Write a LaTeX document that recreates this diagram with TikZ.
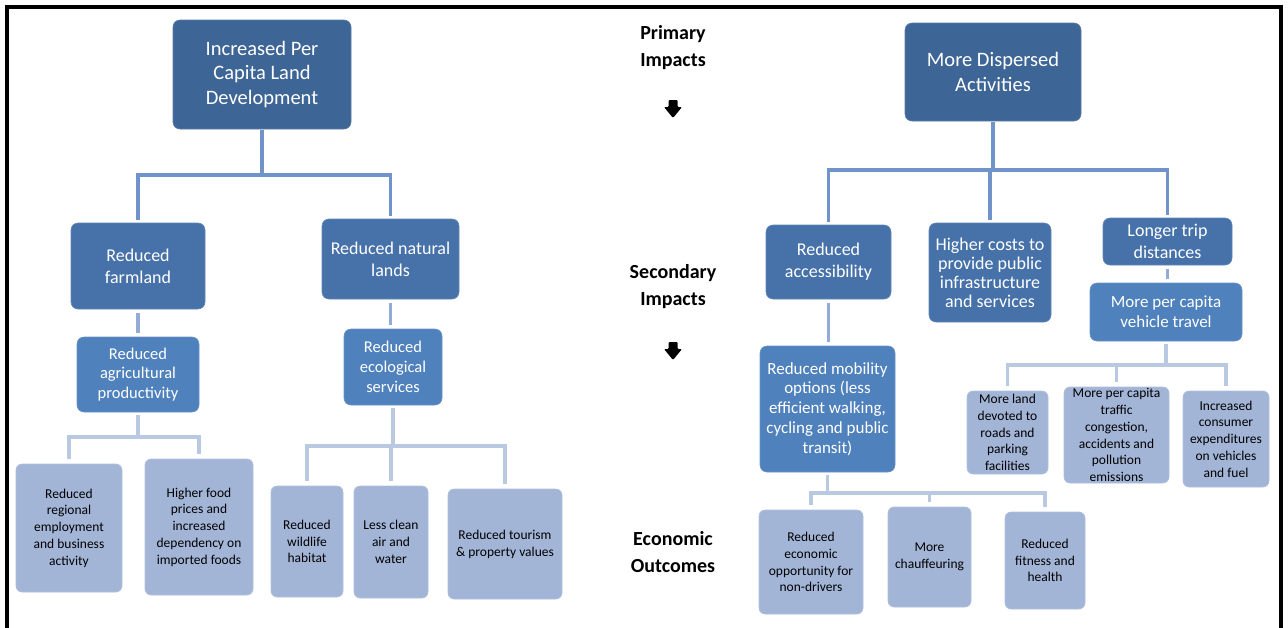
\documentclass[tikz,border=0pt]{standalone}
\usepackage{fontspec}
\setmainfont{Carlito}
\definecolor{cz}{HTML}{3D6596}
\definecolor{cy}{HTML}{4672A9}
\definecolor{cx}{HTML}{4F81BD}
\definecolor{cl}{HTML}{A3B5D7}
\definecolor{kA}{HTML}{7094CA}
\definecolor{kB}{HTML}{93ACD7}
\definecolor{kC}{HTML}{B9C9E2}
\tikzset{
  bx/.style={rectangle, rounded corners=7pt, inner sep=0pt, align=center},
  lvz/.style={bx, fill=cz, draw=cz!85!white, line width=0.6pt, text=white, font=\fontsize{20.5}{24.5}\selectfont},
  lvy/.style={bx, fill=cy, draw=cy!85!white, line width=0.6pt, text=white, font=\fontsize{18}{22}\selectfont},
  lvyt/.style={lvy, font=\fontsize{18}{19}\selectfont},
  lvx/.style={bx, fill=cx, draw=cx!85!white, line width=0.6pt, text=white, font=\fontsize{17}{20}\selectfont},
  lf/.style={bx, rounded corners=6pt, fill=cl, draw=cl!85!white, line width=0.6pt, text=black, font=\fontsize{13.5}{16.8}\selectfont},
  hd/.style={align=center, font=\bfseries\fontsize{20}{27}\selectfont},
  cA/.style={draw=kA, line width=3.6pt, shorten <=1pt, shorten >=3pt},
  cB/.style={draw=kB, line width=3.6pt, shorten <=4pt, shorten >=4pt},
  cC/.style={draw=kC, line width=3.6pt, shorten <=3pt, shorten >=5pt},
}
\begin{document}
\begin{tikzpicture}[x=1pt,y=-1pt]
\useasboundingbox (0,0) rectangle (1288,627);
\fill[white] (0,0) rectangle (1288,627);
% frame
\draw[line width=4pt] (7,630) -- (7,7) -- (1281,7) -- (1281,630);

% headings
\node[hd] (h1) at (673,48) {Primary\\Impacts};
\node[hd] (h2) at (673,286.5) {Secondary\\Impacts};
\node[hd] (h3) at (673,552.5) {Economic\\Outcomes};
\foreach \yy in {108,350}{
  \fill[black, rounded corners=1pt] (668.5,\yy-8) -- (677.5,\yy-8) -- (677.5,\yy-1) -- (682,\yy-1) -- (673,\yy+10) -- (664,\yy-1) -- (668.5,\yy-1) -- cycle;
}

% left tree
\node[lvz, minimum width=178pt, minimum height=109pt] (top1) at (262,74.5) {Increased Per\\Capita Land\\Development};
\node[lvy, minimum width=134pt, minimum height=86pt] (farm) at (138,266) {Reduced\\farmland};
\node[lvy, minimum width=137pt, minimum height=80pt] (nat) at (390.5,259) {Reduced natural\\lands};
\node[lvx, minimum width=122pt, minimum height=75pt, font=\fontsize{16.5}{19.5}\selectfont] (agri) at (138,374.5) {Reduced\\agricultural\\productivity};
\node[lvx, minimum width=98pt, minimum height=76pt, font=\fontsize{16.5}{20}\selectfont] (eco) at (393,367) {Reduced\\ecological\\services};
\node[lf, minimum width=106pt, minimum height=128pt] (emp) at (69,528) {Reduced\\regional\\employment\\and business\\activity};
\node[lf, minimum width=108pt, minimum height=136pt] (food) at (199,527) {Higher food\\prices and\\increased\\dependency on\\imported foods};
\node[lf, minimum width=72pt, minimum height=111pt] (wild) at (307,541.5) {Reduced\\wildlife\\habitat};
\node[lf, minimum width=74pt, minimum height=112pt] (air) at (391,542) {Less clean\\air and\\water};
\node[lf, minimum width=114pt, minimum height=110pt] (tour) at (505,544) {Reduced tourism\\\& property values};

% right tree
\node[lvz, minimum width=176pt, minimum height=98pt] (top2) at (993,72) {More Dispersed\\Activities};
\node[lvy, minimum width=125pt, minimum height=74pt] (acc) at (828.5,262) {Reduced\\accessibility};
\node[lvyt, minimum width=122pt, minimum height=99pt] (cost) at (990,272.5) {Higher costs to\\provide public\\infrastructure\\and services};
\node[lvy, minimum width=129pt, minimum height=47pt] (trip) at (1167.5,241.5) {Longer trip\\distances};
\node[lvx, minimum width=152pt, minimum height=58pt] (veh) at (1166,312) {More per capita\\vehicle travel};
\node[lvx, minimum width=135pt, minimum height=126pt, font=\fontsize{17}{19.8}\selectfont] (mob) at (827.5,409) {Reduced mobility\\options (less\\efficient walking,\\cycling and public\\transit)};
\node[lf, minimum width=81pt, minimum height=83pt] (land) at (1007.5,432.5) {More land\\devoted to\\roads and\\parking\\facilities};
\node[lf, minimum width=105pt, minimum height=96pt] (traf) at (1116.5,435) {More per capita\\traffic\\congestion,\\accidents and\\pollution\\emissions};
\node[lf, minimum width=86pt, minimum height=96pt] (cons) at (1226,439) {Increased\\consumer\\expenditures\\on vehicles\\and fuel};
\node[lf, minimum width=104pt, minimum height=104pt] (opp) at (811,562) {Reduced\\economic\\opportunity for\\non-drivers};
\node[lf, minimum width=83pt, minimum height=100pt] (chauf) at (929.5,557) {More\\chauffeuring};
\node[lf, minimum width=80pt, minimum height=97pt] (fit) at (1045,560.5) {Reduced\\fitness and\\health};

% bus levels
\coordinate (bA) at (0,175);
\coordinate (bB) at (0,437);
\coordinate (bC) at (0,446);
\coordinate (bD) at (0,170);
\coordinate (bE) at (0,365);
\coordinate (bF) at (0,493);

% connectors left
\draw[cA] (top1.south) -- (top1.south |- bA) -| (farm.north);
\draw[cA] (top1.south) -- (top1.south |- bA) -| (nat.north);
\draw[cB] (farm.south) -- (farm.south |- agri.north);
\draw[cB] (nat.south) -- (nat.south |- eco.north);
\draw[cC] (agri.south) -- (agri.south |- bB) -| (emp.north);
\draw[cC] (agri.south) -- (agri.south |- bB) -| (food.north);
\draw[cC] (eco.south) -- (eco.south |- bC) -| (wild.north);
\draw[cC] (eco.south) -- (eco.south |- bC) -| (air.north);
\draw[cC] (eco.south) -- (eco.south |- bC) -| (tour.north);

% connectors right
\draw[cA] (top2.south) -- (top2.south |- bD) -| (acc.north);
\draw[cA] (top2.south) -- (top2.south |- bD) -| (cost.north);
\draw[cA] (top2.south) -- (top2.south |- bD) -| (trip.north);
\draw[cB] (acc.south) -- (acc.south |- mob.north);
\draw[cB] (trip.south) -- (trip.south |- veh.north);
\draw[cC] (veh.south) -- (veh.south |- bE) -| (land.north);
\draw[cC] (veh.south) -- (veh.south |- bE) -| (traf.north);
\draw[cC] (veh.south) -- (veh.south |- bE) -| (cons.north);
\draw[cC] (mob.south) -- (mob.south |- bF) -| (opp.north);
\draw[cC] (mob.south) -- (mob.south |- bF) -| (chauf.north);
\draw[cC] (mob.south) -- (mob.south |- bF) -| (fit.north);
\end{tikzpicture}
\end{document}
